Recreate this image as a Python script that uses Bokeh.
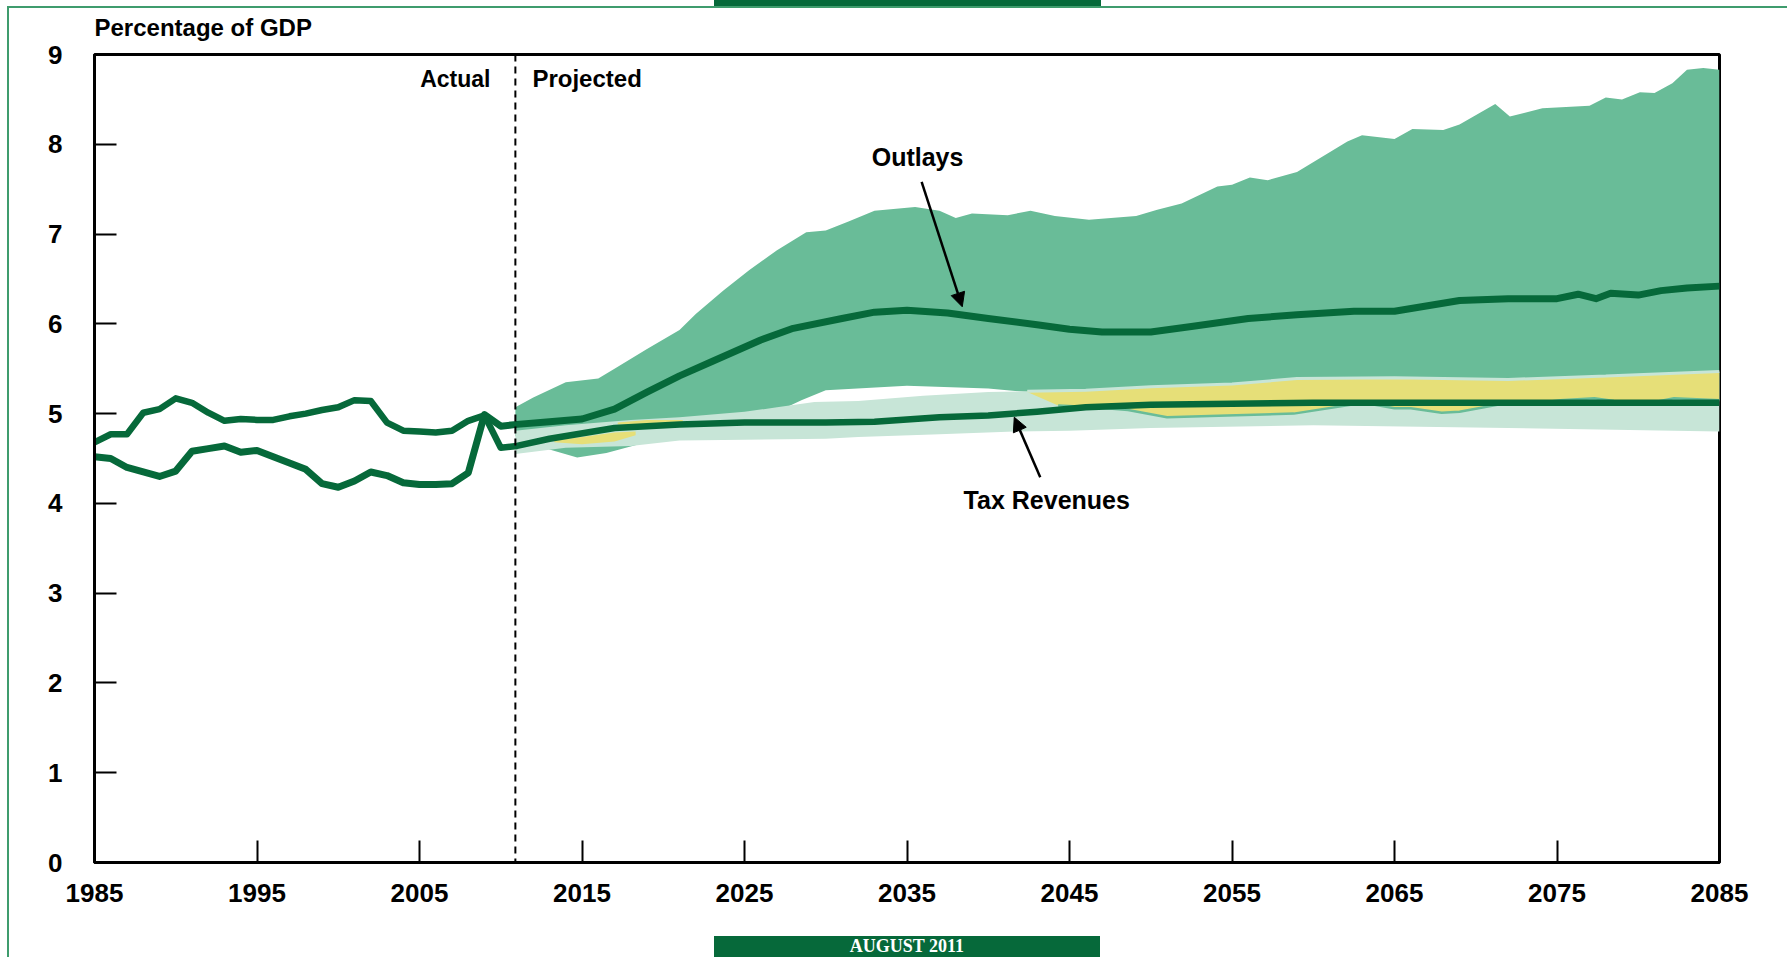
import numpy as np
from bokeh.plotting import figure
from bokeh.models import (Range1d, FixedTicker, Span, Label, Arrow, NormalHead,
                          Title)
from bokeh.embed import file_html
from bokeh.resources import INLINE

# ---------------- data ----------------
actual_years = list(range(1985, 2011))
revenue_actual = [4.68, 4.77, 4.77, 5.01, 5.05, 5.17, 5.12, 5.01, 4.92, 4.94,
                  4.93, 4.93, 4.97, 5.00, 5.04, 5.07, 5.15, 5.14, 4.90, 4.81,
                  4.80, 4.79, 4.81, 4.92, 4.98, 4.62]
outlays_actual = [4.52, 4.50, 4.40, 4.35, 4.30, 4.36, 4.58, 4.61, 4.64, 4.57,
                  4.59, 4.52, 4.45, 4.38, 4.22, 4.18, 4.25, 4.35, 4.31, 4.23,
                  4.21, 4.21, 4.22, 4.34, 4.99, 4.86]

# projected central lines
out_mid_years = [2011, 2013, 2015, 2017, 2019, 2021, 2023, 2026, 2028, 2031, 2033,
                 2035, 2037.5, 2040, 2043, 2045, 2047, 2050, 2052.5, 2056, 2059,
                 2062.5, 2065, 2069, 2072, 2075, 2076.3, 2077.4, 2078.3, 2080,
                 2081.4, 2083, 2085]
out_mid = [4.88, 4.91, 4.94, 5.05, 5.24, 5.42, 5.58, 5.82, 5.95, 6.06, 6.13,
           6.15, 6.12, 6.06, 5.99, 5.94, 5.91, 5.91, 5.97, 6.06, 6.10,
           6.14, 6.14, 6.26, 6.28, 6.28, 6.33, 6.28, 6.34, 6.32,
           6.37, 6.40, 6.42]
rev_mid_years = [2011, 2013, 2017, 2021, 2025, 2030, 2033, 2037, 2040, 2043, 2046,
                 2050, 2055, 2060, 2070, 2080, 2085]
rev_mid = [4.64, 4.72, 4.84, 4.88, 4.90, 4.90, 4.91, 4.96, 4.98, 5.02, 5.07,
           5.10, 5.11, 5.12, 5.12, 5.12, 5.12]

# outlays uncertainty band
out_hi_years = [2010.9, 2012, 2014, 2016, 2017, 2019, 2021, 2022, 2023.7, 2025.3,
                2027, 2028.8, 2030, 2031.4, 2033, 2035.5, 2037, 2038, 2039, 2041.2,
                2042.6, 2044.1, 2046.2, 2049.1, 2050.4, 2051.9, 2054.1, 2055,
                2056.1, 2057.2, 2059, 2062.1, 2063, 2065, 2066.1, 2068, 2069,
                2071.2, 2072.1, 2074.1, 2077, 2078, 2079, 2080.1, 2081, 2082.1,
                2083, 2084, 2085]
out_hi = [5.07, 5.18, 5.35, 5.39, 5.50, 5.72, 5.93, 6.11, 6.37, 6.60,
          6.82, 7.02, 7.04, 7.14, 7.26, 7.30, 7.26, 7.18, 7.23, 7.21,
          7.26, 7.20, 7.16, 7.20, 7.27, 7.34, 7.53, 7.55,
          7.63, 7.60, 7.69, 8.03, 8.10, 8.06, 8.17, 8.16, 8.22,
          8.45, 8.31, 8.40, 8.43, 8.52, 8.50, 8.58, 8.57, 8.68,
          8.83, 8.85, 8.83]
out_lo_years = [2010.9, 2013, 2014.7, 2016.5, 2018.5, 2020, 2022, 2025, 2027, 2028.5,
                2030, 2035, 2040, 2042.4, 2044.3, 2046.5, 2048.6, 2051, 2054.7,
                2058.8, 2063.1, 2065, 2066, 2067.9, 2069, 2072, 2073.5, 2075.2,
                2077.3, 2078.5, 2080.2, 2082.2, 2085]
out_lo = [4.75, 4.60, 4.51, 4.56, 4.66, 4.78, 4.88, 4.95, 5.02, 5.15,
          5.26, 5.31, 5.28, 5.24, 5.09, 5.07, 5.04, 4.96, 4.98,
          5.00, 5.12, 5.06, 5.06, 5.01, 5.02, 5.12, 5.11, 5.15,
          5.17, 5.14, 5.10, 5.17, 5.15]

# tax revenue uncertainty band
rev_hi_years = [2010.9, 2014, 2018, 2021, 2025, 2027, 2029.3, 2032, 2036, 2040,
                2042.4, 2046, 2050, 2055, 2059, 2065, 2072, 2078, 2085]
rev_hi = [4.81, 4.87, 4.93, 4.96, 5.02, 5.07, 5.13, 5.14, 5.20, 5.24,
          5.25, 5.26, 5.30, 5.33, 5.39, 5.40, 5.38, 5.42, 5.47]
rev_lo_years = [2010.9, 2014, 2018, 2021, 2025, 2030, 2032, 2037, 2041.6, 2045,
                2050, 2060, 2072, 2085]
rev_lo = [4.55, 4.62, 4.64, 4.70, 4.71, 4.72, 4.74, 4.77, 4.80, 4.81,
          4.84, 4.87, 4.84, 4.80]

# small overlap patches early in the projection
overlap_a_years = [2013.3, 2015, 2017, 2018.3]
overlap_a_lo = [4.68, 4.66, 4.69, 4.76]
overlap_a_hi = [4.70, 4.74, 4.79, 4.80]
overlap_b_years = [2017.2, 2019, 2021.2]
overlap_b_lo = [4.88, 4.88, 4.90]
overlap_b_hi = [4.90, 4.93, 4.93]

x_ticks = [1985, 1995, 2005, 2015, 2025, 2035, 2045, 2055, 2065, 2075, 2085]
y_ticks = [0, 1, 2, 3, 4, 5, 6, 7, 8, 9]
projection_start = 2010.9

# ---------------- styling ----------------
DARK = "#06693a"
MID = "#69bc98"
LIGHT = "#c7e5d7"
YELLOW = "#e6df78"
BORDER = "#3f9c6d"
FONT = "Liberation Sans"

W, H = 1787, 957
L, R, T, B = 94, 68, 54, 95

p = figure(width=W, height=H, x_range=Range1d(1985, 2085), y_range=Range1d(0, 9),
           output_backend="svg", toolbar_location=None, title=None,
           min_border_left=L, min_border_right=R, min_border_top=T,
           min_border_bottom=B)
p.background_fill_color = "white"
p.border_fill_color = None
p.border_fill_alpha = 0
p.outline_line_color = "black"
p.outline_line_width = 3
p.grid.visible = False

# page decorations drawn as the page background behind the (transparent) border area
bg_layers = [
    f"linear-gradient({DARK},{DARK}) 714px 0px / 387px 6px no-repeat",
    f"linear-gradient({DARK},{DARK}) 714px 936px / 386px 30px no-repeat",
    f"linear-gradient({BORDER},{BORDER}) 7px 6px / 2px 1000px no-repeat",
    f"linear-gradient({BORDER},{BORDER}) 7px 6px / 1800px 2px no-repeat",
    "white",
]
p.styles = {"background": ", ".join(bg_layers)}

for ax in (p.xaxis[0], p.yaxis[0]):
    ax.axis_line_width = 3
    ax.axis_line_color = "black"
    ax.major_tick_in = 22
    ax.major_tick_out = 0
    ax.minor_tick_in = 0
    ax.minor_tick_out = 0
    ax.major_tick_line_width = 2
    ax.major_label_text_font = FONT
    ax.major_label_text_font_style = "bold"
    ax.major_label_text_font_size = "26px"
    ax.major_label_text_color = "black"
p.xaxis.ticker = FixedTicker(ticks=x_ticks)
p.yaxis.ticker = FixedTicker(ticks=y_ticks)
p.xaxis.major_label_standoff = 21
p.yaxis.major_label_standoff = 32

# ---------------- bands ----------------
p.patch(x=out_hi_years + out_lo_years[::-1], y=out_hi + out_lo[::-1],
        fill_color=MID, line_color=None)
p.patch(x=rev_hi_years + rev_lo_years[::-1], y=rev_hi + rev_lo[::-1],
        fill_color=LIGHT, line_color=None)

# yellow overlap of the two bands in the later projection years
grid = sorted(set([x for x in out_lo_years + rev_hi_years if x >= 2042.4]))
lo_i = np.interp(grid, out_lo_years, out_lo)
hi_i = np.interp(grid, rev_hi_years, rev_hi)
p.varea(x=grid, y1=lo_i, y2=np.maximum(hi_i, lo_i), fill_color=YELLOW)
p.varea(x=overlap_a_years, y1=overlap_a_lo, y2=overlap_a_hi, fill_color=YELLOW)
p.varea(x=overlap_b_years, y1=overlap_b_lo, y2=overlap_b_hi, fill_color=YELLOW)

# band edge strokes
hx = [x for x in rev_hi_years if x >= 2042.4]
p.line(x=hx, y=[v for x, v in zip(rev_hi_years, rev_hi) if x >= 2042.4],
       line_color=LIGHT, line_width=3)
lx = [x for x in out_lo_years if x >= 2044.3]
p.line(x=lx, y=[v for x, v in zip(out_lo_years, out_lo) if x >= 2044.3],
       line_color=MID, line_width=2.5)

# ---------------- lines ----------------
p.line(x=actual_years + out_mid_years, y=outlays_actual + out_mid,
       line_color=DARK, line_width=7, line_join="round")
p.line(x=actual_years + rev_mid_years, y=revenue_actual + rev_mid,
       line_color=DARK, line_width=6.5, line_join="round")

p.add_layout(Span(location=projection_start, dimension="height",
                  line_color="black", line_width=2, line_dash="7 5"))

# ---------------- annotations ----------------
def lab(x, y, text, size, align="center", baseline="middle", color="black",
        font=FONT):
    p.add_layout(Label(x=x, y=y, text=text, text_font=font,
                       text_font_style="bold", text_font_size=size,
                       text_align=align, text_baseline=baseline,
                       text_color=color))


lab(2009.37, 8.73, "Actual", "23px", align="right")
lab(2011.95, 8.73, "Projected", "24px", align="left")
lab(2035.65, 7.86, "Outlays", "25px")
lab(2043.6, 4.04, "Tax Revenues", "25px")

p.add_layout(Arrow(end=NormalHead(size=14, fill_color="black", line_color="black"),
                   x_start=2035.9, y_start=7.58, x_end=2038.4, y_end=6.19,
                   line_width=2.5, line_color="black"))
p.add_layout(Arrow(end=NormalHead(size=14, fill_color="black", line_color="black"),
                   x_start=2043.2, y_start=4.29, x_end=2041.6, y_end=4.96,
                   line_width=2.5, line_color="black"))

# axis title above the plot
p.add_layout(Title(text="Percentage of GDP", align="left", text_font=FONT,
                   text_font_style="bold", text_font_size="24px",
                   text_color="black", vertical_align="top", standoff=24), "above")

# footer text in the dark footer box (leading empty line pushes it to the page foot)
p.add_layout(Title(text="\nAUGUST 2011", align="center", text_font="Liberation Serif",
                   text_font_style="bold", text_font_size="18px",
                   text_line_height=1.49, text_color="white",
                   vertical_align="bottom", standoff=0),
             "below")

open("out.html", "w").write(file_html(p, INLINE))
